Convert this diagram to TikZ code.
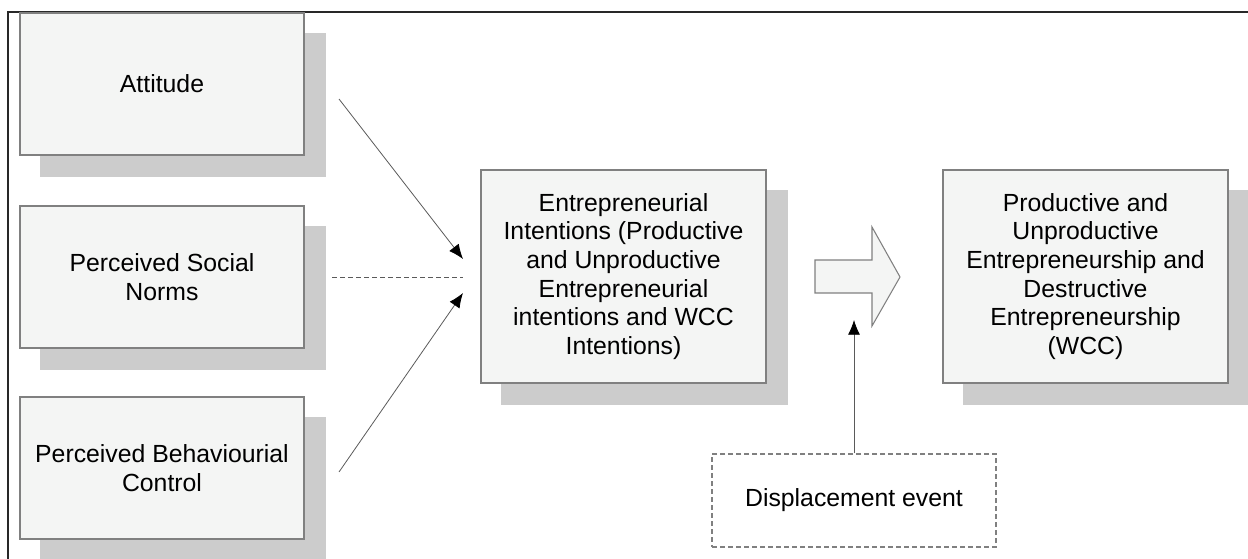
\documentclass[tikz,border=0pt]{standalone}
\usepackage{fontspec}
\setmainfont{Liberation Sans}
\usetikzlibrary{arrows.meta,backgrounds}
\definecolor{boxfill}{RGB}{244,245,244}
\definecolor{boxline}{RGB}{128,128,128}
\definecolor{shadowgray}{RGB}{204,204,204}
\definecolor{linkgray}{RGB}{90,90,90}
\begin{document}
\begin{tikzpicture}[x=0.75pt,y=0.75pt,yscale=-1,xscale=1,
  fbox/.style={draw=boxline,line width=0.8pt,fill=boxfill,align=center,inner sep=0pt,
    font=\fontsize{18.6}{21.5}\selectfont},
  sidebox/.style={fbox,minimum width=213pt,minimum height=106.5pt},
  bigbox/.style={fbox,minimum width=213.75pt,minimum height=159.75pt},
  link/.style={draw=linkgray,line width=0.6pt,-{Latex[length=11pt,width=9pt,black]}}]
\useasboundingbox (0,0) rectangle (1248,559);

%Frame
\draw [line width=1.1pt,draw={rgb,255:red,40;green,40;blue,40}] (8,559) -- (8,12) -- (1248,12) ;

% Text Node
\node [sidebox] (att) at (162,84) {Attitude};
% Text Node
\node [sidebox] (psn) at (162,277) {Perceived Social\\Norms};
% Text Node
\node [sidebox] (pbc) at (162,468) {Perceived Behaviourial\\Control};
% Text Node
\node [bigbox] (ent) at (623.5,276.5) {Entrepreneurial\\Intentions (Productive\\and Unproductive\\Entrepreneurial\\intentions and WCC\\Intentions)};
% Text Node
\node [bigbox] (res) at (1085.5,276.5) {Productive and\\Unproductive\\Entrepreneurship and\\Destructive\\Entrepreneurship\\(WCC)};
% Text Node
\node [fbox,fill=white,dashed,dash pattern=on 3.75pt off 2.25pt,minimum width=213pt,minimum height=69.75pt] (dsp) at (854,500.5) {Displacement event};

%Shadows
\begin{scope}[on background layer]
\foreach \b in {att,psn,pbc,ent,res}
  \fill [shadowgray] ([shift={(21,21)}]\b.north west) rectangle ([shift={(21,21)}]\b.south east) ;
\end{scope}

%Shape: Right Arrow
\draw [draw=boxline,line width=0.8pt,fill=boxfill] (815,260) -- (872,260) -- (872,227) -- (900,277) -- (872,326) -- (872,293) -- (815,293) -- cycle ;

%Straight Lines
\coordinate (inA) at (463,259);
\coordinate (inN) at (463,277);
\coordinate (inB) at (463,293);
\coordinate (outA) at (339,99);
\coordinate (outN) at (332,277);
\coordinate (outB) at (339,472);
\coordinate (evt) at (854,320);
\draw [link] (outA) -- (inA) ;
\draw [draw=linkgray,line width=0.6pt,dash pattern=on 3.75pt off 2.25pt] (outN) -- (inN) ;
\draw [link] (outB) -- (inB) ;
\draw [link] (dsp.north -| evt) -- (evt) ;

\end{tikzpicture}
\end{document}
